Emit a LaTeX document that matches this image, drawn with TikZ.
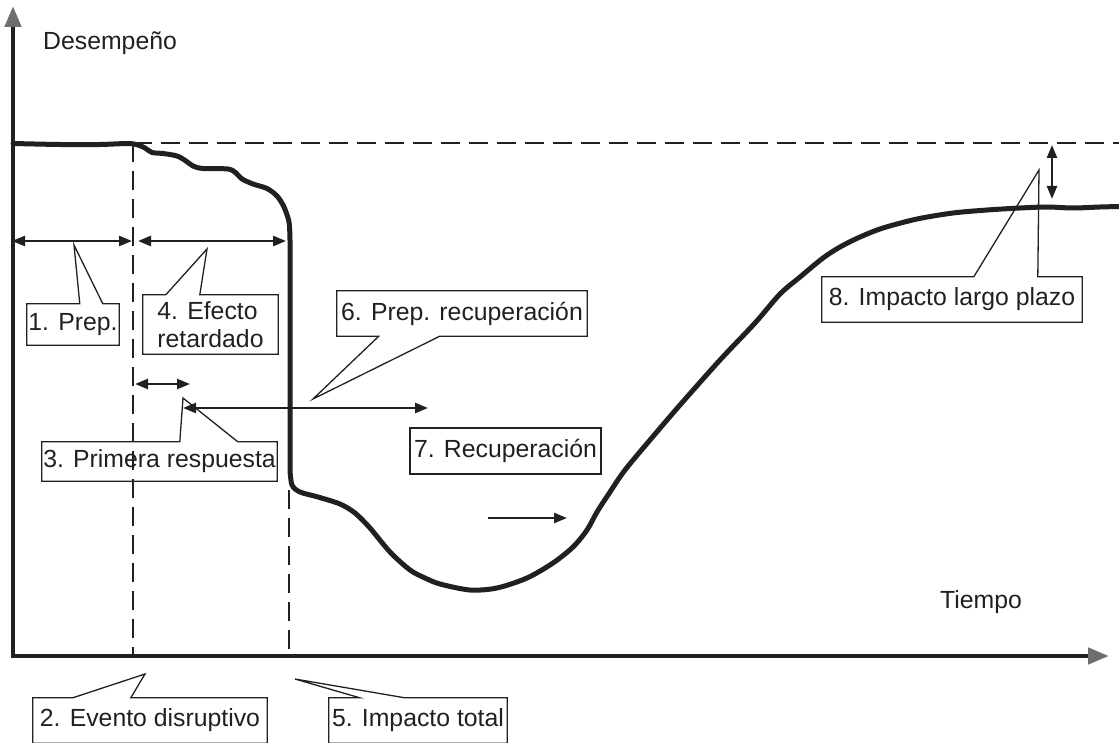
\documentclass[tikz,border=0pt]{standalone}
\usepackage{fontspec}
\setmainfont{Liberation Sans}
\usetikzlibrary{arrows.meta,calc}
\definecolor{ink}{HTML}{231F20}
\definecolor{tipgray}{HTML}{6D6E71}
\begin{document}
\begin{tikzpicture}[x=1pt,y=-1pt,
  lbl/.style={font=\fontsize{24.8}{28}\selectfont, inner sep=0pt, text=ink},
  cbox/.style={lbl, draw=none, align=left},
  callout/.style={draw=ink, line width=1.3pt, line join=miter},
  axisline/.style={draw=ink, line width=4.5pt, line join=miter},
  curveline/.style={draw=ink, line width=5pt, line join=round, line cap=round},
  guide/.style={draw=ink, line width=2pt, dash pattern=on 19pt off 9pt},
  dbl/.style={draw=ink, line width=2.4pt, {Triangle[length=13pt,width=10pt]}-{Triangle[length=13pt,width=10pt]}},
  sgl/.style={draw=ink, line width=2.4pt, -{Triangle[length=13pt,width=10pt]}}
]
\useasboundingbox (0,0) rectangle (1119,743);

% axes
\coordinate (ytip) at (13,6);
\coordinate (orig) at (13,656);
\coordinate (xtip) at (1109,656);
\draw[axisline, {Triangle[length=21pt,width=16pt,color=tipgray]}-{Triangle[length=21pt,width=16pt,color=tipgray]}] (ytip) -- (orig) -- (xtip);

\node[lbl, anchor=base west] (ylab) at (43,50) {Desempeño};
\node[lbl, anchor=base west] (xlab) at (940,608) {Tiempo};

% guide lines
\coordinate (h0) at (133,143);
\coordinate (h1) at (1119,143);
\coordinate (v1b) at (133,656);
\coordinate (v2t) at (289,490);
\coordinate (v2b) at (289,656);
\draw[guide] (h0) -- (h1);
\draw[guide] (h0) -- (v1b);
\draw[guide] (v2t) -- (v2b);

% performance curve
\draw[curveline] plot[smooth, tension=0.5] coordinates {
 (13,143.5) (60,144.5) (100,144.5) (128,143.5) (138,145) (145,148) (152,152.5)
 (163,153.5) (177,156) (186,161) (193,166) (203,168.5) (228,169) (236,173)
 (242,179) (253,184) (267,188.5) (277,196) (284,207) (289,222) (290,240)}
 -- (290,470)
 plot[smooth, tension=0.5] coordinates {
 (290,470) (292,485) (300,492) (318,497) (340,504) (355,513) (370,528)
 (390,552) (410,570) (425,578) (440,584) (470,590) (497,588) (527,578)
 (553,563) (573,547) (587,530) (597,512) (610,492) (625,470) (650,440)
 (680,405) (720,360) (755,323) (780,294) (800,277) (823,258) (840,247)
 (860,237) (883,228) (917,219) (953,213) (987,210) (1020,208) (1047,207)
 (1073,208) (1100,207) (1119,206.5)};

% interval arrows
\coordinate (a1l) at (12,241);  \coordinate (a1r) at (132,241);
\coordinate (a4l) at (138,241); \coordinate (a4r) at (286,241);
\coordinate (a3l) at (135,384); \coordinate (a3r) at (190,384);
\coordinate (a6l) at (183,408); \coordinate (a6r) at (428,408);
\coordinate (a7l) at (488,518); \coordinate (a7r) at (567,518);
\coordinate (a8t) at (1052,145); \coordinate (a8b) at (1052,199);
\draw[dbl] (a1l) -- (a1r);
\draw[dbl] (a4l) -- (a4r);
\draw[dbl] (a3l) -- (a3r);
\draw[dbl] (a6l) -- (a6r);
\draw[sgl] (a7l) -- (a7r);
\draw[dbl] (a8t) -- (a8b);

% callout boxes
\node[cbox, minimum width=92pt, minimum height=41pt] (b1) at (73,324.5) {1. Prep.};
\coordinate (t1) at (74,245);
\draw[callout] (b1.north west) -- ($(b1.north west)+(53,0)$) -- (t1) -- ($(b1.north west)+(76,0)$)
  -- (b1.north east) |- (b1.south west) -- cycle;

\node[cbox, minimum width=135pt, minimum height=59pt] (b4) at (210.5,324.5) {4. Efecto\\retardado};
\coordinate (t4) at (207,249);
\draw[callout] (b4.north west) -- ($(b4.north west)+(23,0)$) -- (t4) -- ($(b4.north west)+(57,0)$)
  -- (b4.north east) |- (b4.south west) -- cycle;

\node[cbox, minimum width=235pt, minimum height=39pt] (b3) at (159.5,461.5) {3. Primera respuesta};
\coordinate (t3) at (183,398);
\draw[callout] (b3.north west) -- ($(b3.north west)+(138,0)$) -- (t3) -- ($(b3.north west)+(196,0)$)
  -- (b3.north east) |- (b3.south west) -- cycle;

\node[cbox, minimum width=234pt, minimum height=45pt] (b2) at (150,720.5) {2. Evento disruptivo};
\coordinate (t2) at (145,674);
\draw[callout] (b2.north west) -- ($(b2.north west)+(40,0)$) -- (t2) -- ($(b2.north west)+(98,0)$)
  -- (b2.north east) |- (b2.south west) -- cycle;

\node[cbox, minimum width=178pt, minimum height=45pt] (b5) at (418,720.5) {5. Impacto total};
\coordinate (t5) at (295,679);
\draw[callout] (b5.north west) -- ($(b5.north west)+(31,0)$) -- (t5) -- ($(b5.north west)+(76,0)$)
  -- (b5.north east) |- (b5.south west) -- cycle;

\node[cbox, minimum width=250pt, minimum height=45pt] (b6) at (462,313.5) {6. Prep. recuperación};
\coordinate (t6) at (313,399);
\draw[callout] (b6.north west) -- (b6.north east) -- (b6.south east)
  -- ($(b6.south west)+(103,0)$) -- (t6) -- ($(b6.south west)+(42,0)$) -- (b6.south west) -- cycle;

\node[cbox, draw=ink, line width=1.3pt, minimum width=191pt, minimum height=46pt] (b7) at (505.5,451) {7. Recuperación};

\node[cbox, minimum width=260pt, minimum height=45pt] (b8) at (952,299.5) {8. Impacto largo plazo};
\coordinate (t8) at (1039,170);
\draw[callout] (b8.north west) -- ($(b8.north west)+(152,0)$) -- (t8) -- ($(b8.north west)+(216,0)$)
  -- (b8.north east) |- (b8.south west) -- cycle;
\end{tikzpicture}
\end{document}
